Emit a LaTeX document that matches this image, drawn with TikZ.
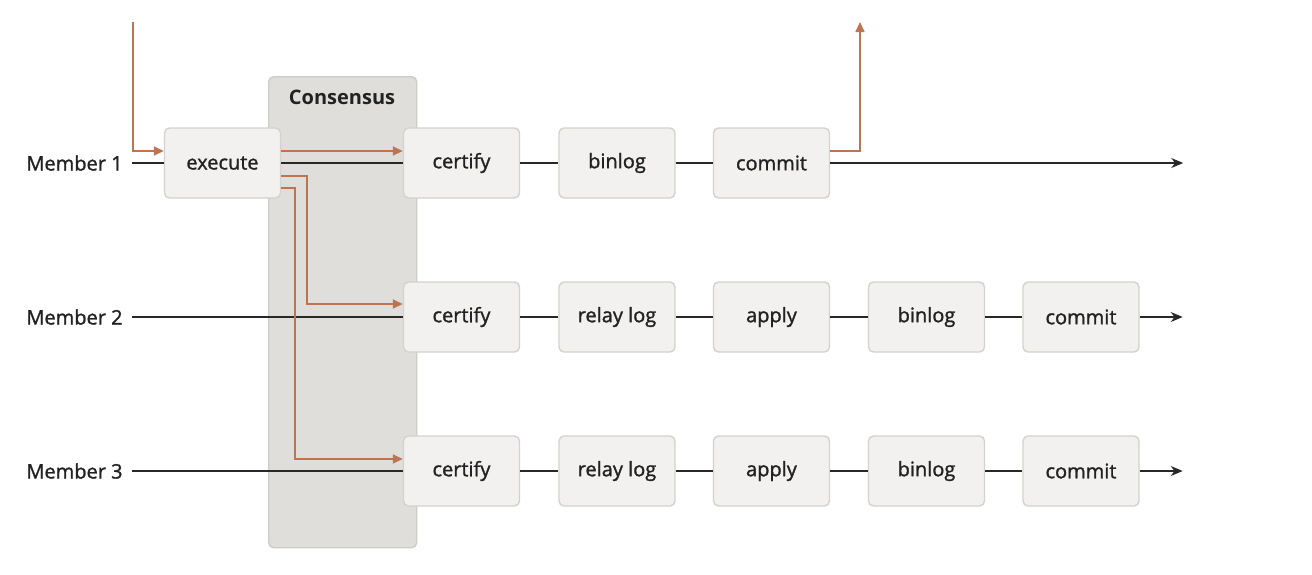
\documentclass[tikz,border=0pt]{standalone}
\usepackage{fontspec}
\setmainfont{Open Sans}[UprightFeatures={RawFeature={embolden=1.3}}]
\usetikzlibrary{arrows.meta}
\definecolor{flowcol}{RGB}{188,116,82}
\definecolor{stagefill}{RGB}{242,241,239}
\definecolor{stageline}{RGB}{212,210,206}
\definecolor{consfill}{RGB}{223,222,219}
\definecolor{consline}{RGB}{206,204,200}
\definecolor{wirecol}{RGB}{40,40,40}
\definecolor{textcol}{RGB}{34,34,34}
\begin{document}
\begin{tikzpicture}[x=0.5pt, y=-0.5pt, font=\fontsize{10}{12}\selectfont, text=textcol,
	stage/.style={draw=stageline, fill=stagefill, rounded corners=2.5pt, line width=0.7pt,
		minimum width=58pt, minimum height=35pt, inner sep=0pt},
	wire/.style={draw=wirecol, line width=0.6pt},
	flow/.style={draw=flowcol, line width=0.8pt, -{Triangle[length=5pt, width=4.5pt]}}]
	\useasboundingbox (0,0) rectangle (1312,574);
	%consensus
	\node[draw=consline, fill=consfill, rounded corners=2.5pt, line width=0.7pt,
		minimum width=74pt, minimum height=235.5pt, inner sep=0pt, anchor=north west]
		(consensus) at (268,76) {};
	\node[font=\fontsize{10}{12}\selectfont\bfseries] (constitle) at (342,97) {Consensus};
	%members
	\foreach \r/\y in {1/163, 2/317, 3/471}
	\node[anchor=east, inner sep=0pt] (member\r) at (123,\y) {Member \r};
	%stages
	\node[stage] (execute) at (222.5,163) {execute};
	\node[stage] (certify1) at (461.5,163) {certify};
	\node[stage] (binlog1) at (617,163) {binlog};
	\node[stage] (commit1) at (771.5,163) {commit};
	\foreach \r/\y in {2/317, 3/471}{
		\node[stage] (certify\r) at (461.5,\y) {certify};
		\node[stage] (relay\r) at (617,\y) {relay log};
		\node[stage] (apply\r) at (771.5,\y) {apply};
		\node[stage] (binlog\r) at (926.5,\y) {binlog};
		\node[stage] (commit\r) at (1081,\y) {commit};
	}
	%wires
	\draw[wire] ([xshift=4.5pt]member1.east) -- (execute.west);
	\draw[wire] (execute.east) -- (certify1.west);
	\draw[wire] (certify1) -- (binlog1) -- (commit1);
	\draw[wire, -{Stealth[length=6pt, width=5pt]}] (commit1.east) -- ++(176.5pt,0) coordinate (end1);
	\foreach \r in {2,3}{
		\draw[wire] ([xshift=4.5pt]member\r.east) -- (certify\r.west);
		\draw[wire] (certify\r) -- (relay\r) -- (apply\r) -- (binlog\r) -- (commit\r);
		\draw[wire, -{Stealth[length=6pt, width=5pt]}] (commit\r.east) -- ++(21.5pt,0);
	}
	%transaction flow
	\coordinate (client) at (133,22);
	\coordinate (reply) at (860,22);
	\draw[flow] (client) |- ([yshift=6pt]execute.west);
	\draw[flow] ([yshift=6pt]execute.east) -- ([yshift=6pt]certify1.west);
	\draw[flow] ([yshift=-6.5pt]execute.east) -- ++(13pt,0) |- ([yshift=6.5pt]certify2.west);
	\draw[flow] ([yshift=-12.5pt]execute.east) -- ++(7pt,0) |- ([yshift=6pt]certify3.west);
	\draw[flow] ([yshift=6pt]commit1.east) -| (reply);
\end{tikzpicture}
\end{document}
